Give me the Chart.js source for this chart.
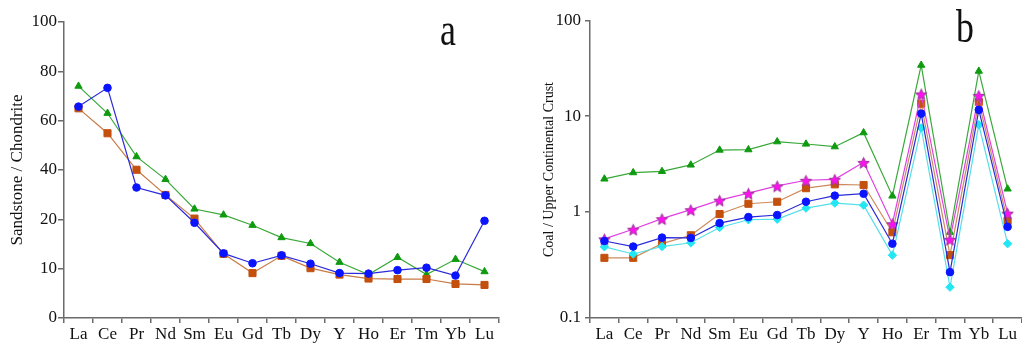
<!DOCTYPE html>
<html>
<head>
<meta charset="utf-8">
<script src="https://cdn.jsdelivr.net/npm/chart.js@4.4.1/dist/chart.umd.min.js"></script>
<style>
    html, body { margin: 0; padding: 0; background: #fff; overflow: hidden; }
    #wrapA { position: absolute; left: 0; top: 0; width: 520px; height: 344px; }
    #wrapB { position: absolute; left: 520px; top: 0; width: 509px; height: 344px; }
</style>
</head>
<body>
<div id="wrapA"><canvas id="chartA" width="520" height="344"></canvas></div>
<div id="wrapB"><canvas id="chartB" width="509" height="344"></canvas></div>
<script>
const elements = ['La', 'Ce', 'Pr', 'Nd', 'Sm', 'Eu', 'Gd', 'Tb', 'Dy', 'Y', 'Ho', 'Er', 'Tm', 'Yb', 'Lu'];

// panel a: sandstone / chondrite
const sandGreen = [74, 63, 45.4, 36.2, 24.2, 21.8, 18.8, 16.3, 15.1, 11.3, 8.8, 12.3, 8.8, 11.9, 9.4];
const sandBlue = [65.7, 73.3, 32.9, 29.7, 19.3, 13.1, 11.1, 12.7, 11.0, 9.1, 9.0, 9.7, 10.2, 8.6, 19.7];
const sandOrange = [65.0, 54.9, 40.1, 29.9, 20.3, 13.0, 9.1, 12.6, 10.1, 8.8, 8.0, 7.9, 7.9, 6.9, 6.7];
const sandTicks = [0, 10, 20, 40, 60, 80, 100];

// panel b: coal / upper continental crust
const coalGreen = [2.2, 2.56, 2.64, 3.08, 4.41, 4.45, 5.39, 5.1, 4.78, 6.7, 1.46, 34.3, 0.64, 29.7, 1.73];
const coalMagenta = [0.555, 0.684, 0.86, 1.05, 1.32, 1.56, 1.86, 2.13, 2.18, 3.28, 0.77, 17.1, 0.55, 16.5, 0.97];
const coalOrange = [0.368, 0.368, 0.50, 0.60, 0.95, 1.21, 1.27, 1.76, 1.93, 1.9, 0.64, 13.5, 0.39, 14.1, 0.82];
const coalBlue = [0.53, 0.47, 0.57, 0.566, 0.78, 0.89, 0.93, 1.27, 1.47, 1.54, 0.50, 10.6, 0.27, 11.6, 0.72];
const coalCyan = [0.467, 0.40, 0.47, 0.51, 0.71, 0.84, 0.85, 1.09, 1.23, 1.17, 0.39, 7.5, 0.195, 8.1, 0.50];
const coalTicks = [0.1, 1, 10, 100];

(function () {
    'use strict';

    var axisColor = '#6b6b6b';
    var serif = '"Liberation Serif", "Times New Roman", serif';

    // value axis whose labelled ticks sit at fixed fractions of its length
    class BreakScale extends Chart.LinearScale {
        determineDataLimits() {
            var b = this.options.breaks;
            this.min = b[0];
            this.max = b[b.length - 1];
        }
        buildTicks() {
            return this.options.breaks.map(function (v) { return { value: v }; });
        }
        _tr(v) {
            return this.options.logBreaks ? Math.log10(v) : v;
        }
        getPixelForValue(value) {
            var b = this.options.breaks, f = this.options.stops;
            var i = 0;
            while (i < b.length - 2 && value > b[i + 1]) i++;
            var t = (this._tr(value) - this._tr(b[i])) / (this._tr(b[i + 1]) - this._tr(b[i]));
            return this.getPixelForDecimal(f[i] + t * (f[i + 1] - f[i]));
        }
        getValueForPixel(pixel) {
            var b = this.options.breaks, f = this.options.stops;
            var d = this.getDecimalForPixel(pixel);
            var i = 0;
            while (i < f.length - 2 && d > f[i + 1]) i++;
            var t = (d - f[i]) / (f[i + 1] - f[i]);
            var lo = this._tr(b[i]), hi = this._tr(b[i + 1]);
            var v = lo + t * (hi - lo);
            return this.options.logBreaks ? Math.pow(10, v) : v;
        }
    }
    BreakScale.id = 'breaks';
    BreakScale.defaults = Chart.LinearScale.defaults;
    Chart.register(BreakScale);

    var panelLetter = {
        id: 'panelLetter',
        afterDraw: function (chart, args, opts) {
            var ctx = chart.ctx;
            ctx.save();
            ctx.font = '46px ' + serif;
            ctx.fillStyle = '#111';
            ctx.textAlign = 'center';
            ctx.textBaseline = 'alphabetic';
            ctx.translate(opts.x, opts.y);
            ctx.scale(0.78, 1);
            ctx.fillText(opts.text, 0, 0);
            ctx.restore();
        }
    };

    function makeStar(r, fill, stroke) {
        var c = document.createElement('canvas');
        var size = Math.ceil(r * 2 + 3);
        c.width = size;
        c.height = size;
        var g = c.getContext('2d');
        g.beginPath();
        for (let i = 0; i < 10; i++) {
            var rad = i % 2 ? r * 0.45 : r;
            var a = -Math.PI / 2 + i * Math.PI / 5;
            g.lineTo(size / 2 + rad * Math.cos(a), size / 2 + 1 + rad * Math.sin(a));
        }
        g.closePath();
        g.fillStyle = fill;
        g.fill();
        g.lineWidth = 1;
        g.strokeStyle = stroke;
        g.stroke();
        return c;
    }

    function series(data, style, radius, marker, line, order) {
        return {
            data: data,
            pointStyle: style,
            pointRadius: radius,
            pointBackgroundColor: marker,
            pointBorderColor: marker,
            pointBorderWidth: 1,
            borderColor: line,
            borderWidth: 1.2,
            tension: 0,
            fill: false,
            order: order
        };
    }

    function xAxis() {
        return {
            type: 'category',
            labels: elements,
            offset: true,
            grid: { display: true, offset: true, drawOnChartArea: false, tickLength: 5, color: axisColor, lineWidth: 1.5 },
            border: { display: true, color: axisColor, width: 1.5 },
            ticks: { color: '#111', font: { family: serif, size: 17 }, padding: 1, autoSkip: false, maxRotation: 0 },
            afterFit: function (s) { s.height = 26; }
        };
    }

    function yAxis(ticks, stops, isLog, width, title, titleSize, titlePad, tickLen, tickPad) {
        return {
            type: 'breaks',
            breaks: ticks,
            stops: stops,
            logBreaks: isLog,
            grid: { display: true, drawOnChartArea: false, tickLength: tickLen, color: axisColor, lineWidth: 1.5 },
            border: { display: true, color: axisColor, width: 1.5 },
            ticks: {
                color: '#111', font: { family: serif, size: 17 }, padding: tickPad, autoSkip: false,
                callback: function (v) { return String(v); }
            },
            title: {
                display: true, text: title, color: '#111',
                font: { family: serif, size: titleSize }, padding: { top: titlePad, bottom: 0 }
            },
            afterFit: function (s) { s.width = width; }
        };
    }

    var common = {
        responsive: false,
        animation: false,
        events: [],
        plugins: { legend: { display: false }, tooltip: { enabled: false } }
    };

    new Chart(document.getElementById('chartA'), {
        type: 'line',
        data: {
            labels: elements,
            datasets: [
                series(sandGreen, 'triangle', 4.2, '#0f9a0f', '#3aa83a', 2),
                series(sandOrange, 'rect', 5, '#c4500e', '#c97a45', 1),
                series(sandBlue, 'circle', 3.8, '#0a14ff', '#2a2ad8', 0)
            ]
        },
        options: Object.assign({}, common, {
            layout: { padding: { left: 0, right: 21, top: 22, bottom: 0 } },
            scales: {
                x: xAxis(),
                y: yAxis(sandTicks, [0, 1 / 6, 2 / 6, 3 / 6, 4 / 6, 5 / 6, 1], false, 64,
                    'Sandstone / Chondrite', 17, 7.8, 6, 1)
            },
            plugins: Object.assign({}, common.plugins, { panelLetter: { text: 'a', x: 448, y: 45 } })
        }),
        plugins: [panelLetter]
    });

    var star = makeStar(6, '#ff10f0', '#9a3a9a');

    new Chart(document.getElementById('chartB'), {
        type: 'line',
        data: {
            labels: elements,
            datasets: [
                series(coalGreen, 'triangle', 4.2, '#0f9a0f', '#3aa83a', 4),
                series(coalOrange, 'rect', 5, '#c4500e', '#cc8a5c', 3),
                series(coalMagenta, star, 6, '#ff10f0', '#e040e0', 2),
                series(coalCyan, 'rectRot', 4.2, '#22e6f2', '#55e0e8', 1),
                series(coalBlue, 'circle', 3.8, '#0a14ff', '#2a2ad8', 0)
            ]
        },
        options: Object.assign({}, common, {
            layout: { padding: { left: 0, right: 2, top: 21, bottom: 0 } },
            scales: {
                x: xAxis(),
                y: yAxis(coalTicks, [0, 0.358, 0.680, 1], true, 70,
                    'Coal / Upper Continental Crust', 14, 20.6, 5, 4)
            },
            plugins: Object.assign({}, common.plugins, { panelLetter: { text: 'b', x: 445, y: 42 } })
        }),
        plugins: [panelLetter]
    });
})();
</script>
</body>
</html>
